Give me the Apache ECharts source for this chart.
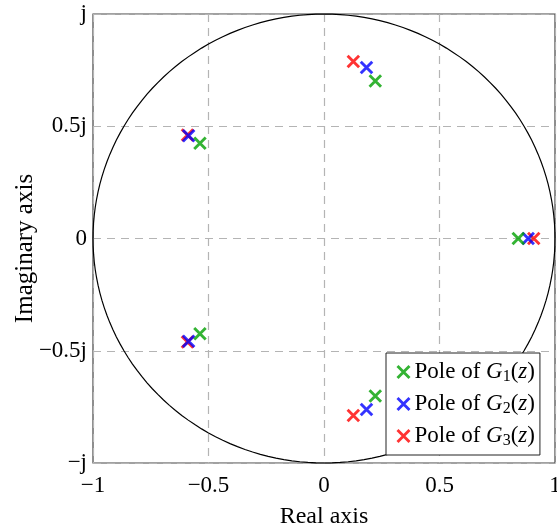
<!DOCTYPE html>
<html><head><meta charset="utf-8">
<script src="https://cdn.jsdelivr.net/npm/echarts@6/dist/echarts.min.js"></script>
<style>html,body{margin:0;padding:0;background:#fff}#c{width:557px;height:530px}</style>
</head><body><div id="c"></div>
<script>
const g1Re = [0.222, -0.537, 0.841, -0.537, 0.222];
const g1Im = [0.702, 0.424, 0, -0.424, -0.702];
const g2Re = [0.184, -0.586, 0.884, -0.586, 0.184];
const g2Im = [0.762, 0.458, 0, -0.458, -0.762];
const g3Re = [0.127, -0.591, 0.908, -0.591, 0.127];
const g3Im = [0.788, 0.461, 0, -0.461, -0.788];
const xTicks = {'-1':'\u22121','-0.5':'\u22120.5','0':'0','0.5':'0.5','1':'1'};
const yTicks = {'-1':'\u2212j','-0.5':'\u22120.5j','0':'0','0.5':'0.5j','1':'j'};
const names = ['G1','G2','G3'];
const colors = ['#00a000','#0000ff','#ff0000'];
const zOrder = [5,4,3];
const FONT = 'Liberation Serif';
const XSYM = 'path://M0,0L10,10M0,10L10,0';

function pts(re, im){ return re.map((r,i)=>[r, im[i]]); }
const sets = [pts(g1Re,g1Im), pts(g2Re,g2Im), pts(g3Re,g3Im)];

const chart = echarts.init(document.getElementById('c'));
const series = [{
  type:'custom', silent:true, z:1,
  data:[[0,0]],
  renderItem:function(params, api){
    const points=[];
    for(let a=0;a<=360;a+=2){
      const t=a*Math.PI/180;
      points.push(api.coord([Math.cos(t), Math.sin(t)]));
    }
    return {type:'polyline', shape:{points:points}, style:{stroke:'#000', lineWidth:1.2, fill:null}};
  }
}];
sets.forEach((d,i)=>{
  series.push({
    type:'scatter', name:names[i], data:d, symbol:XSYM, symbolSize:11.5, z:zOrder[i],
    itemStyle:{color:'none', borderColor:colors[i], borderWidth:2.9}
  });
});
chart.setOption({
  animation:false,
  grid:{left:93, right:2, top:14, bottom:67, outerBoundsMode:'none', containLabel:false,
    show:true, borderColor:'#444', borderWidth:1.2, backgroundColor:'#fff'},
  xAxis:{type:'value', min:-1, max:1, interval:0.5,
    name:'Real axis', nameLocation:'middle', nameGap:42, nameMoveOverlap:false,
    nameTextStyle:{fontFamily:FONT, fontSize:24, color:'#000'},
    axisLine:{show:false}, axisTick:{show:false},
    axisLabel:{fontFamily:FONT, fontSize:23, color:'#000', margin:11, formatter:v=>xTicks[String(v)]},
    splitLine:{show:true, lineStyle:{color:'#b4b4b4', type:[8,6], width:1.2}}},
  yAxis:{type:'value', min:-1, max:1, interval:0.5,
    name:'Imaginary axis', nameLocation:'middle', nameGap:55, nameMoveOverlap:false,
    nameTextStyle:{fontFamily:FONT, fontSize:25, color:'#000', padding:[0,20,0,0]},
    axisLine:{show:false}, axisTick:{show:false},
    axisLabel:{fontFamily:FONT, fontSize:23, color:'#000', margin:6, formatter:v=>yTicks[String(v)]},
    splitLine:{show:true, lineStyle:{color:'#b4b4b4', type:[8,6], width:1.2}}},
  legend:{
    left:386, top:353, orient:'vertical', itemGap:6,
    backgroundColor:'#fff', borderColor:'#222', borderWidth:1, borderRadius:0,
    padding:[6,5,6,9],
    itemWidth:12, itemHeight:12,
    data:names.map((n,i)=>({name:n, icon:XSYM, itemStyle:{color:'none', borderColor:colors[i], borderWidth:2.9}})),
    formatter:function(n){ return 'Pole of {i|G}{s|'+n.slice(1)+'}({i|z})'; },
    textStyle:{fontFamily:FONT, fontSize:23, color:'#000', lineHeight:26,
      rich:{i:{fontFamily:FONT, fontStyle:'italic', fontSize:23, color:'#000'},
            s:{fontFamily:FONT, fontSize:16, color:'#000', padding:[9,0,0,0]}}}
  },
  series:series
});
</script></body></html>
